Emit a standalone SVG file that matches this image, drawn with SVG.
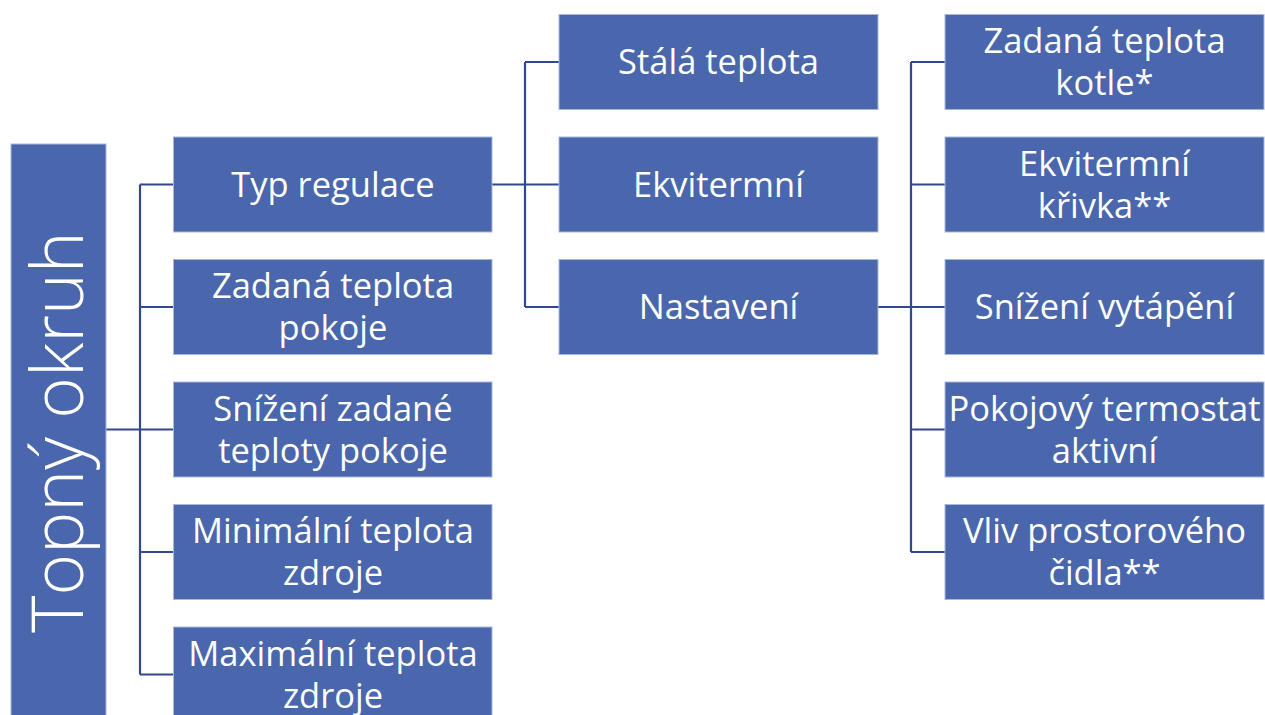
<svg xmlns="http://www.w3.org/2000/svg" width="1265" height="715" viewBox="0 0 1265 715">
<style>
.box{fill:#4A66AC;stroke:#A9B7DA;stroke-width:1}
.t{fill:#FFFFFF;font-family:"Open Sans","Noto Sans","Liberation Sans",sans-serif;font-size:34.5px;text-anchor:middle}
.root{fill:#FFFFFF;font-family:"Open Sans","Noto Sans","Liberation Sans",sans-serif;font-size:71px;font-weight:300;text-anchor:middle}
.c{fill:none;stroke:#30498C;stroke-width:2.2}
</style>
<rect width="1265" height="715" fill="#FFFFFF"/>
<g id="connectors">
<path class="c" d="M106,429.5H173.5M140,184.5V674.5M140,184.5H173.5M140,307H173.5M140,552H173.5M140,674.5H173.5"/>
<path class="c" d="M492,184.5H559M525,62V307M525,62H559M525,307H559"/>
<path class="c" d="M878,307H945M911,62V552M911,62H945M911,184.5H945M911,429.5H945M911,552H945"/>
</g>
<g id="n-root"><rect class="box" x="11" y="144" width="95" height="580"/><text class="root" transform="translate(83,432) rotate(-90)">Topný okruh</text></g>
<g id="n-typ"><rect class="box" x="173.5" y="137" width="318.5" height="95"/><text class="t" x="333" y="196.5">Typ regulace</text></g>
<g id="n-zadana-pokoje"><rect class="box" x="173.5" y="259.5" width="318.5" height="95"/><text class="t" x="333" y="298">Zadaná teplota<tspan x="333" dy="42">pokoje</tspan></text></g>
<g id="n-snizeni-zadane"><rect class="box" x="173.5" y="382" width="318.5" height="95"/><text class="t" x="333" y="420.5">Snížení zadané<tspan x="333" dy="42">teploty pokoje</tspan></text></g>
<g id="n-min"><rect class="box" x="173.5" y="504.5" width="318.5" height="95"/><text class="t" x="333" y="543">Minimální teplota<tspan x="333" dy="42">zdroje</tspan></text></g>
<g id="n-max"><rect class="box" x="173.5" y="627" width="318.5" height="95"/><text class="t" x="333" y="665.5">Maximální teplota<tspan x="333" dy="42">zdroje</tspan></text></g>
<g id="n-stala"><rect class="box" x="559" y="14.5" width="319" height="95"/><text class="t" x="718.5" y="74">Stálá teplota</text></g>
<g id="n-ekvi"><rect class="box" x="559" y="137" width="319" height="95"/><text class="t" x="718.5" y="196.5">Ekvitermní</text></g>
<g id="n-nast"><rect class="box" x="559" y="259.5" width="319" height="95"/><text class="t" x="718.5" y="319">Nastavení</text></g>
<g id="n-kotle"><rect class="box" x="945" y="14.5" width="319" height="95"/><text class="t" x="1104.5" y="53">Zadaná teplota<tspan x="1104.5" dy="42">kotle*</tspan></text></g>
<g id="n-krivka"><rect class="box" x="945" y="137" width="319" height="95"/><text class="t" x="1104.5" y="175.5">Ekvitermní<tspan x="1104.5" dy="42">křivka**</tspan></text></g>
<g id="n-snizeni-vyt"><rect class="box" x="945" y="259.5" width="319" height="95"/><text class="t" x="1104.5" y="319">Snížení vytápění</text></g>
<g id="n-termostat"><rect class="box" x="945" y="382" width="319" height="95"/><text class="t" x="1104.5" y="420.5">Pokojový termostat<tspan x="1104.5" dy="42">aktivní</tspan></text></g>
<g id="n-cidla"><rect class="box" x="945" y="504.5" width="319" height="95"/><text class="t" x="1104.5" y="543">Vliv prostorového<tspan x="1104.5" dy="42">čidla**</tspan></text></g>
</svg>
